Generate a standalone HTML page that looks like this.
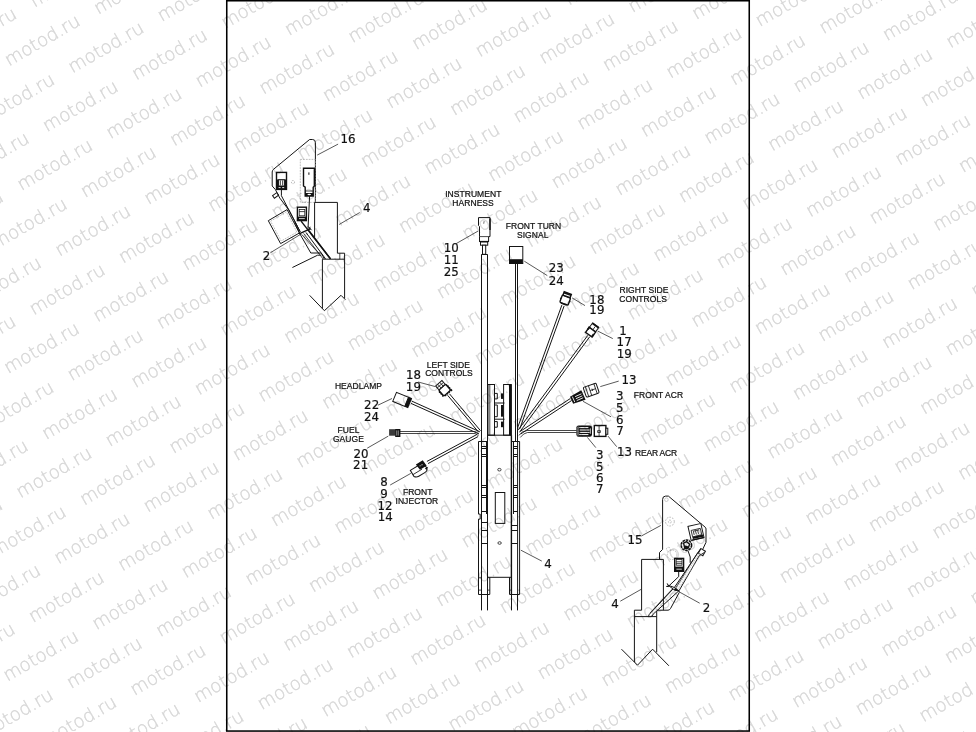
<!DOCTYPE html>
<html><head><meta charset="utf-8"><title>Wiring harness diagram</title>
<style>
html,body{margin:0;padding:0;background:#fff;}
body{width:976px;height:732px;overflow:hidden;position:relative;}
svg{position:absolute;left:0;top:0;display:block;}
.wm text{font-family:"DejaVu Sans","Liberation Sans",sans-serif;font-weight:200;font-size:18.3px;fill:#d6d6d6;stroke:#d6d6d6;stroke-width:0.35px;}
.lab text{font-family:"Liberation Sans","DejaVu Sans",sans-serif;font-size:8.5px;fill:#111;stroke:#111;stroke-width:0.22px;letter-spacing:0.05px;}
.num text{font-family:"DejaVu Sans","Liberation Sans",sans-serif;font-size:11.8px;fill:#111;stroke:#111;stroke-width:0.2px;letter-spacing:0.1px;}
.l{fill:none;stroke:#151515;stroke-width:1.0;}
.lw{fill:#fff;stroke:#151515;stroke-width:1.0;}
.t{fill:none;stroke:#1a1a1a;stroke-width:0.8;}
.tw{fill:#fff;stroke:#1a1a1a;stroke-width:0.8;}
.k{fill:none;stroke:#111;stroke-width:1.4;}
.kw{fill:#fff;stroke:#111;stroke-width:1.4;}
.b{fill:#111;stroke:none;}
.g{fill:none;stroke:#a4a4a4;stroke-width:0.7;stroke-dasharray:1.8 1;}
.ld{fill:none;stroke:#222;stroke-width:0.75;}
</style></head>
<body>
<svg width="976" height="732" viewBox="0 0 976 732">
<rect x="0" y="0" width="976" height="732" fill="#fff"/>
<g class="draw">
<path class="lw" d="M478.5 217.6H490.0V236.6H488.6V241.6H479.5V236.6V226.6L478.5 225.6Z"/>
<path class="k" d="M490.0 218.5L490.0 230.0"/>
<path class="t" d="M479.4 236.6L488.6 236.6"/>
<rect class="b" x="479.2" y="240.9" width="9.6" height="1.1" />
<rect class="lw" x="480.5" y="242.0" width="7.2" height="3.2" />
<rect class="lw" x="482.5" y="245.2" width="3.2" height="9.1" />
<path d="M483.6 221.6V224.0M483.6 221.6H485.0M483.6 222.8H484.8" stroke="#777" stroke-width="0.6" fill="none"/>
<path class="l" d="M481.5 254.4L481.5 441.2"/>
<path class="l" d="M487.5 254.4L487.5 441.2"/>
<path class="l" d="M481.5 254.5L487.5 254.5"/>
<rect class="lw" x="509.5" y="246.5" width="13.3" height="17.0" />
<rect class="b" x="509.4" y="259.2" width="13.4" height="4.4" />
<path class="l" d="M515.5 263.6L515.5 441.2"/>
<path class="l" d="M517.5 263.6L517.5 441.2"/>
<rect class="lw" x="488.0" y="384.5" width="6.5" height="50.7" />
<path class="t" d="M489.8 384.5L489.8 435.2"/>
<rect class="lw" x="503.6" y="384.5" width="7.7" height="50.7" />
<rect class="b" x="509.0" y="384.5" width="2.6" height="50.7" />
<path class="l" d="M494.5 393.4H497.3V398.9H494.5"/>
<rect class="b" x="501.0" y="393.4" width="2.4" height="5.5" />
<path class="l" d="M494.5 405.0H497.3V416.7H494.5"/>
<rect class="b" x="501.0" y="405.0" width="2.4" height="11.699999999999989" />
<path class="l" d="M494.5 421.6H497.3V427.2H494.5"/>
<rect class="b" x="501.0" y="421.6" width="2.4" height="5.599999999999966" />
<path class="l" d="M494.5 403.0L504.5 403.0"/>
<path class="l" d="M494.5 419.2L504.5 419.2"/>
<path class="l" d="M487.7 435.2H511.3"/>
<path class="l" d="M487.5 435.2L487.5 594.4"/>
<path class="k" d="M511.4 435.2L511.4 594.4"/>
<path class="l" d="M489.8 577.3L489.8 594.4"/>
<path class="l" d="M509.5 577.3L509.5 594.4"/>
<path class="l" d="M487.7 577.3L511.3 577.3"/>
<ellipse class="t" cx="499.4" cy="469.7" rx="1.7" ry="1.3"/>
<ellipse class="t" cx="499.6" cy="543.0" rx="1.7" ry="1.3"/>
<rect class="l" x="495.3" y="492.5" width="9.5" height="30.9" />
<path class="l" d="M478.5 441.5V514.1H480.2V519.1H478.5V594.5H489.8"/>
<path class="l" d="M478.5 441.5L487.5 441.5"/>
<path class="l" d="M481.5 441.3L481.5 594.4"/>
<path class="l" d="M486.5 441.3L486.5 514.0"/>
<path class="l" d="M481.5 446.5L486.5 446.5"/>
<path class="l" d="M481.5 448.5L486.5 448.5"/>
<path class="l" d="M481.5 454.5L486.5 454.5"/>
<path class="l" d="M481.5 456.5L486.5 456.5"/>
<path class="l" d="M481.5 485.5L486.5 485.5"/>
<path class="l" d="M481.5 487.5L486.5 487.5"/>
<path class="l" d="M481.5 495.5L486.5 495.5"/>
<path class="l" d="M481.5 497.5L486.5 497.5"/>
<path class="l" d="M481.5 511.5L486.5 511.5"/>
<path class="l" d="M481.5 522.5L487.5 522.5"/>
<path class="l" d="M481.5 530.5L487.5 530.5"/>
<path class="l" d="M481.5 543.5L487.5 543.5"/>
<path class="t" d="M478.4 577.8L481.2 577.8"/>
<path class="t" d="M478.4 590.1L481.2 590.1"/>
<path class="t" d="M487.7 590.1L489.8 590.1"/>
<path class="l" d="M511.3 441.5H519.6V594.5H509.5"/>
<path class="l" d="M517.6 441.3L517.6 594.4"/>
<path class="l" d="M513.5 441.3L513.5 514.0"/>
<path class="l" d="M513.5 446.5L517.6 446.5"/>
<path class="l" d="M513.5 448.5L517.6 448.5"/>
<path class="l" d="M513.5 454.5L517.6 454.5"/>
<path class="l" d="M513.5 456.5L517.6 456.5"/>
<path class="l" d="M513.5 485.5L517.6 485.5"/>
<path class="l" d="M513.5 487.5L517.6 487.5"/>
<path class="l" d="M513.5 495.5L517.6 495.5"/>
<path class="l" d="M513.5 497.5L517.6 497.5"/>
<path class="l" d="M513.5 511.5L517.6 511.5"/>
<path class="l" d="M511.4 525.5L517.6 525.5"/>
<path class="l" d="M511.4 530.5L517.6 530.5"/>
<path class="l" d="M511.4 543.5L517.6 543.5"/>
<path class="t" d="M509.5 590.1L511.3 590.1"/>
<path class="t" d="M518.7 590.1L519.9 590.1"/>
<path class="l" d="M481.5 594.4L481.5 610.4"/>
<path class="l" d="M487.5 594.4L487.5 610.4"/>
<path class="l" d="M511.5 594.4L511.5 610.4"/>
<path class="l" d="M517.5 594.4L517.5 610.4"/>
<path class="l" d="M561.87 305.09L517.47 428.09"/>
<path class="l" d="M564.13 305.91L519.73 428.91"/>
<path class="l" d="M587.83 335.29L518.33 429.79"/>
<path class="l" d="M589.77 336.71L520.27 431.21"/>
<path class="l" d="M570.34 398.5L519.34 432.0"/>
<path class="l" d="M571.66 400.5L520.66 434.0"/>
<path class="t" d="M576.6 430.5H527Q522 430.8 518.7 435.5"/>
<path class="t" d="M576.6 432.5H527.5Q523.5 433 520.2 437.5"/>
<path class="l" d="M447.58 395.27L478.68 432.27"/>
<path class="l" d="M449.42 393.73L480.52 430.73"/>
<path class="l" d="M411.01 403.39L478.81 433.89"/>
<path class="l" d="M411.99 401.21L479.79 431.71"/>
<path class="t" d="M399.8 431.5H475.5L479 434.0"/>
<path class="t" d="M399.8 433.5H475L478.5 435.6"/>
<path class="l" d="M428.07 463.56L478.07 436.56"/>
<path class="l" d="M426.93 461.44L476.93 434.44"/>
<g transform="translate(565.4 299.6) rotate(20)"><rect class="kw" x="-4.4" y="-3.2" width="8.8" height="7.6" rx="1"/><rect class="kw" x="-3.8" y="-7.0" width="7.6" height="3.6" rx="0"/><rect class="b" x="-3.8" y="-7.0" width="7.6" height="1.8" rx="0"/><path class="k" d="M-5.4 0.5L-4.4 0.5"/><path class="k" d="M4.4 0.5L5.4 0.5"/><rect class="b" x="-3.0" y="4.0" width="6.0" height="1.4" rx="0"/></g>
<path class="ld" d="M572.1 297.9L585.0 305.6"/>
<g transform="translate(592.2 330.0) rotate(36)"><rect class="lw" x="-3.8" y="-6.0" width="7.6" height="5.6" rx="0"/><rect class="kw" x="-4.0" y="-0.4" width="8.0" height="6.2" rx="0"/><rect class="b" x="-3.8" y="-6.4" width="7.6" height="1.7" rx="0"/><path class="t" d="M0.4 -4.6L0.4 -0.4"/><rect class="b" x="-4.8" y="-1.0" width="1.8" height="3.2" rx="0"/><rect class="b" x="2.8" y="2.4" width="1.8" height="3.4" rx="0"/></g>
<path class="ld" d="M598.0 331.2L612.8 338.6"/>
<g transform="translate(591.2 390.2) rotate(-19)"><rect class="lw" x="-6.8" y="-5.2" width="13.6" height="10.4" rx="1.2"/><path class="t" d="M-4.4 -5.2L-4.4 5.2"/><path class="t" d="M-1.2 -5.2L-1.2 5.2"/><path class="t" d="M4.6 -5.2L4.6 5.2"/><path class="t" d="M-1.2 0L4.6 0"/><path class="t" d="M1.2 -1.2L1.2 1.2"/></g>
<g transform="translate(577.6 397.6) rotate(-24)"><path class="b" d="M-6.6 -3.9L6.4 -5.3L6.4 5.3L-6.6 3.9Z"/><path d="M-4.4 -3.0V3.0M-2.0 -1.9H5.0M-2.0 0.3H5.0M-2.0 2.4H5.0" stroke="#fff" stroke-width="0.8" fill="none"/></g>
<path class="ld" d="M600.3 386.6L618.7 381.1"/>
<path class="ld" d="M583.0 401.3L611.0 416.8"/>
<rect class="b" x="576.4" y="425.4" width="15.6" height="11.3" rx="2.2"/>
<path d="M579.2 427.6H588.4M579.6 430.0H589.6M579.6 432.4H589.6M579.2 434.6H588.4" stroke="#fff" stroke-width="1.0" fill="none"/>
<path d="M578.0 426.6V435.6M590.4 428.4V433.8" stroke="#fff" stroke-width="0.7" fill="none"/>
<rect class="kw" x="594.3" y="425.5" width="11.6" height="10.9" />
<rect class="lw" x="605.9" y="428.2" width="1.9" height="6.1" />
<path class="t" d="M599.1 425.5L599.1 436.4"/>
<rect class="t" x="597.7" y="430.7" width="2.6" height="1.7" />
<path class="ld" d="M587.4 437.4L595.8 447.6"/>
<path class="ld" d="M608.0 436.1L616.7 446.7"/>
<g transform="translate(443.9 389.2) rotate(-41)"><path d="M-4.6 -1.2V5.2H4.6V-1.2" fill="none" stroke="#111" stroke-width="2.6" stroke-dasharray="1.3 1.2"/><rect class="kw" x="-4.6" y="-2.8" width="9.2" height="8.0" rx="1.5"/><rect class="lw" x="-4.2" y="-7.8" width="8.4" height="5.0" rx="0"/><path class="t" d="M-1.4 -7.8L-1.4 -2.8"/><path class="t" d="M1.4 -7.8L1.4 -2.8"/><path class="t" d="M-4.2 -5.4L4.2 -5.4"/><path d="M-5.4 -1.4H-4.6M-5.4 1.0H-4.6M-5.4 3.4H-4.6M4.6 -1.4H5.4M4.6 1.0H5.4M4.6 3.4H5.4M-2.6 5.2V6.2M0 5.2V6.2M2.6 5.2V6.2" stroke="#111" stroke-width="1.1" fill="none"/></g>
<path class="ld" d="M418.2 382.0L435.0 386.5"/>
<g transform="translate(402.0 399.9) rotate(22.5)"><rect class="lw" x="-8.0" y="-4.9" width="13.0" height="9.8" rx="0"/><rect class="b" x="5.0" y="-5.4" width="3.8" height="10.8" rx="0"/></g>
<path class="ld" d="M377.9 405.2L392.0 398.5"/>
<rect class="b" x="389.1" y="429.2" width="6.7" height="6.5" style="fill:#3a3a3a"/>
<rect class="kw" x="395.9" y="429.7" width="3.8" height="6.6" />
<path class="k" d="M397.9 429.7L397.9 436.3"/>
<path class="ld" d="M367.2 448.2L388.3 436.1"/>
<g transform="translate(419.2 470.4) rotate(-31)"><path class="lw" d="M-7.6 -4.6H7.6V1.6Q7.6 4.8 3.6 4.8H-3.4Q-6.0 4.8 -7.6 2.6Z"/><path class="t" d="M-7.6 0.4L3.0 0.4"/><path class="b" d="M0.2 -6.8L8.2 -6.8L8.8 -0.2L1.0 -0.2Z"/><path d="M2.6 -3.4H3.6M4.8 -3.4H5.8" stroke="#fff" stroke-width="0.9" fill="none"/><path class="b" d="M6.0 1.0L9.6 1.6L6.4 3.4Z"/></g>
<path class="ld" d="M390.2 485.0L410.8 473.4"/>
<path class="ld" d="M456.2 243.6L478.0 231.1"/>
<path class="ld" d="M524.3 261.2L547.3 275.6"/>
<path class="ld" d="M520.9 550.2L541.8 561.1"/>
<path class="l" d="M315.4 202.4V142.6Q315.4 139.5 312.6 139.5H309.6L273.4 169.4Q272.2 170.4 272.2 172V186.0L275.4 189.6"/>
<rect class="g" x="300.3" y="159.4" width="15.0" height="43.0" />
<circle class="g" cx="293.0" cy="182.1" r="1.6"/>
<path class="kw" d="M303.5 168.3H314.4V186.0L313.2 187.2V196.0H305.2V187.2L303.5 186.0Z"/>
<path class="t" d="M305.2 191.0L313.2 191.0"/>
<rect class="b" x="305.2" y="193.0" width="8.0" height="3.0" />
<ellipse cx="309.2" cy="194.5" rx="1.8" ry="0.8" fill="#fff"/>
<rect class="b" x="308.4" y="172.4" width="1.0" height="2.4" />
<path class="k" d="M314.6 170V186"/>
<rect class="kw" x="276.5" y="172.4" width="10.0" height="17.0" />
<rect class="b" x="276.5" y="179.4" width="10.0" height="10.0" />
<rect class="lw" x="278.6" y="179.8" width="5.8" height="6.2" />
<path class="t" d="M280.4 180.4V185.4M282.6 180.4V185.4"/>
<path d="M278.6 187.6H280.6M282.2 187.6H284.2" stroke="#fff" stroke-width="0.9"/>
<g transform="translate(275.6 195.4) rotate(-35)"><rect class="lw" x="-2.6" y="-1.6" width="5.2" height="3.2" rx="0"/></g>
<path class="l" d="M281.4 189.4V195.7L300.2 231.7"/>
<path class="l" d="M279.8 198.1L288.4 209.4"/>
<path class="l" d="M275.4 189.6L279.8 198.1"/>
<path class="lw" d="M268.3 220.7L287.1 209.6L299.4 233.0L280.6 243.6Z"/>
<path class="g" d="M270.6 221.2L286.4 211.9L296.9 232.2L281.2 241.0Z"/>
<path class="l" d="M288.6 209.4L300.2 231.7"/>
<rect class="kw" x="297.4" y="207.2" width="9.0" height="13.4" />
<rect class="b" x="297.4" y="216.6" width="9.0" height="4.0" />
<rect class="tw" x="299.2" y="209.4" width="5.6" height="6.4" />
<path class="t" d="M299.2 211.6L304.8 211.6"/>
<path d="M299 218.6H304.8" stroke="#fff" stroke-width="0.8"/>
<path class="k" d="M301.1 221.1L330.5 258.9"/>
<path class="l" d="M309.6 196.0L308.0 228.8"/>
<path class="l" d="M314.6 237.4V202.4H337.4V253.2H344.6V298.4"/>
<path class="t" d="M339.8 253.2V259.2"/>
<path class="l" d="M322.4 308.6V259.2H344.6"/>
<path class="l" d="M309.6 295.3L324.4 310.7L341.0 295.3L345.3 299.6"/>
<path class="l" d="M294.8 222.0L299.8 233.7L310.8 253.0H321.3L324.3 258.9"/>
<path class="t" d="M301.6 234.3L319.4 254.0"/>
<path class="l" d="M305.9 232.4L325.6 258.9"/>
<path class="t" d="M303.6 233.4L323.0 258.9"/>
<path class="k" d="M309.0 230.6L330.5 258.9"/>
<path class="l" d="M292.4 267.5L317.6 255.2H321.4"/>
<path class="k" d="M299.1 233.9L310.6 228.6"/>
<path class="l" d="M308.0 226.4L311.6 230.2M310.2 226.8L308.4 230.4"/>
<path class="ld" d="M317.2 155.1L338.1 144.1"/>
<path class="ld" d="M339.1 224.5L359.8 212.5"/>
<path class="ld" d="M270.3 252.8L300.8 234.2"/>
<path class="l" d="M659.5 559.3V552.5L662.6 549.4V499.4Q662.6 496.1 665.6 496.1H668.4L705.2 527.2Q706 527.9 706 529V542.3L702.6 549.6"/>
<path class="l" d="M657.0 610.2H668.0Q669.6 610.2 670.6 608.4L679.4 592.2"/>
<circle cx="666.4" cy="499.7" r="1.8" fill="none" stroke="#aaa" stroke-width="0.6"/>
<circle class="g" cx="669.9" cy="521.6" r="4.4"/>
<circle class="g" cx="669.9" cy="521.6" r="1.5"/>
<circle class="g" cx="668.4" cy="549.3" r="2.0"/>
<circle class="g" cx="672.1" cy="554.8" r="4.8"/>
<path class="g" d="M680.6 522.9L682.6 522.7"/>
<g transform="translate(696.0 532.0) rotate(-13)"><rect class="lw" x="-6.6" y="-7.2" width="13.2" height="14.4" rx="0"/><rect class="tw" x="-4.4" y="-2.6" width="9.4" height="6.6" rx="0"/><path class="t" d="M-2.4 -1.4V2.4M-0.2 -1.4V2.4M2.0 -1.4V2.4M-2.4 -1.4H3.6"/><rect class="b" x="-4.6" y="4.0" width="10.6" height="2.2" rx="0"/><rect class="b" x="-5.6" y="6.4" width="12.0" height="1.2" rx="0"/></g>
<circle cx="686.4" cy="545.2" r="5.2" fill="#fff" stroke="#111" stroke-width="1.6" stroke-dasharray="2.6 0.7"/>
<path class="k" d="M683.6 543.2L686.6 541.6L689.6 544.2L688.2 548.2L684.8 548.6Z"/>
<path class="b" d="M684.6 545.2L688.6 546.4L687.4 549.2L684.2 548.4Z"/>
<path class="l" d="M688.1 551.0L690.2 557.0V562.8"/>
<g transform="translate(701.9 552.2) rotate(30)"><rect class="lw" x="-2.6" y="-2.6" width="5.2" height="5.2" rx="0"/></g>
<rect class="kw" x="674.7" y="558.4" width="8.9" height="12.9" />
<rect class="b" x="674.7" y="566.6" width="8.9" height="4.7" />
<rect class="tw" x="676.2" y="559.6" width="5.8" height="5.6" />
<path class="t" d="M676.2 561.8L682.0 561.8"/>
<path class="t" d="M676.2 563.6L682.0 563.6"/>
<path d="M676.4 569.2H681.8" stroke="#fff" stroke-width="0.8"/>
<path class="l" d="M678.7 571.4V576.6L668.6 586.2"/>
<path class="l" d="M700.8 548.4L674.3 587.6L649.3 614.3L648.4 616.6"/>
<path class="l" d="M704.2 552.6L699.2 555.8L679.2 590.5L653.0 614.3L651.7 616.6"/>
<path class="g" d="M699.6 553.0L676.4 588.6L650.4 616.6"/>
<path class="g" d="M701.8 553.6L677.8 589.6"/>
<path class="t" d="M697.9 552.4L675.6 588.2"/>
<path class="t" d="M672.4 589.0L650.0 613.0"/>
<path class="l" d="M641.6 559.4H663.4V610.2"/>
<path class="l" d="M641.6 559.4V610.2H634.4V662.1"/>
<path class="l" d="M634.4 616.6H656.7"/>
<path class="l" d="M656.7 611.0V652.3"/>
<path class="l" d="M621.5 649.2L637.5 665.2L652.6 649.2L668.9 665.8"/>
<path class="lw" d="M668.1 585.2Q674.4 586.6 679.6 591.3Q673.4 590.6 668.1 585.2Z"/>
<path class="l" d="M667.2 583.4L668.6 586.6L666.2 586.4"/>
<rect class="b" x="674.6" y="588.6" width="2.6" height="2.2" />
<path class="ld" d="M641.2 536.1L660.9 525.4"/>
<path class="ld" d="M620.3 601.2L641.2 589.3"/>
<path class="ld" d="M679.6 592.1L699.7 603.2"/>
</g>
<g class="lab" style="filter:grayscale(1)">
<text x="473.3" y="196.6" text-anchor="middle">INSTRUMENT</text>
<text x="473.1" y="205.5" text-anchor="middle">HARNESS</text>
<text x="533.5" y="228.6" text-anchor="middle">FRONT TURN</text>
<text x="532.7" y="237.5" text-anchor="middle">SIGNAL</text>
<text x="619.5" y="292.7" text-anchor="start">RIGHT SIDE</text>
<text x="619.3" y="301.7" text-anchor="start">CONTROLS</text>
<text x="633.8" y="397.5" text-anchor="start">FRONT ACR</text>
<text x="635" y="455.7" text-anchor="start" style="letter-spacing:-0.2px">REAR ACR</text>
<text x="448.3" y="367.7" text-anchor="middle">LEFT SIDE</text>
<text x="449.0" y="376.4" text-anchor="middle">CONTROLS</text>
<text x="358.5" y="388.6" text-anchor="middle">HEADLAMP</text>
<text x="348.5" y="432.5" text-anchor="middle">FUEL</text>
<text x="348.4" y="441.8" text-anchor="middle">GAUGE</text>
<text x="417.7" y="494.7" text-anchor="middle">FRONT</text>
<text x="416.9" y="503.5" text-anchor="middle">INJECTOR</text>
</g>
<g class="num" style="filter:grayscale(1)">
<text x="348" y="142.8" text-anchor="middle">16</text>
<text x="366.8" y="212.2" text-anchor="middle">4</text>
<text x="266.6" y="260.2" text-anchor="middle">2</text>
<text x="451.3" y="251.9" text-anchor="middle">10</text>
<text x="451.3" y="263.8" text-anchor="middle">11</text>
<text x="451.3" y="275.7" text-anchor="middle">25</text>
<text x="556.3" y="272.3" text-anchor="middle">23</text>
<text x="556.3" y="284.5" text-anchor="middle">24</text>
<text x="596.9" y="303.5" text-anchor="middle">18</text>
<text x="596.9" y="314.4" text-anchor="middle">19</text>
<text x="623" y="334.6" text-anchor="middle">1</text>
<text x="624.2" y="346.0" text-anchor="middle">17</text>
<text x="624.3" y="357.6" text-anchor="middle">19</text>
<text x="629" y="384.1" text-anchor="middle">13</text>
<text x="619.7" y="400.1" text-anchor="middle">3</text>
<text x="619.7" y="411.7" text-anchor="middle">5</text>
<text x="619.7" y="423.6" text-anchor="middle">6</text>
<text x="620" y="435.0" text-anchor="middle">7</text>
<text x="624.6" y="455.7" text-anchor="middle">13</text>
<text x="599.7" y="459.4" text-anchor="middle">3</text>
<text x="599.7" y="471.1" text-anchor="middle">5</text>
<text x="599.7" y="482.4" text-anchor="middle">6</text>
<text x="599.9" y="492.6" text-anchor="middle">7</text>
<text x="413.6" y="379.2" text-anchor="middle">18</text>
<text x="413.4" y="391.1" text-anchor="middle">19</text>
<text x="371.7" y="408.9" text-anchor="middle">22</text>
<text x="371.5" y="420.7" text-anchor="middle">24</text>
<text x="361" y="458.3" text-anchor="middle">20</text>
<text x="360.7" y="469.1" text-anchor="middle">21</text>
<text x="384" y="486.2" text-anchor="middle">8</text>
<text x="384" y="498.1" text-anchor="middle">9</text>
<text x="385" y="509.9" text-anchor="middle">12</text>
<text x="385.3" y="521.3" text-anchor="middle">14</text>
<text x="548" y="568.2" text-anchor="middle">4</text>
<text x="635" y="544.3" text-anchor="middle">15</text>
<text x="615" y="608.2" text-anchor="middle">4</text>
<text x="706.5" y="611.6" text-anchor="middle">2</text>
</g>
<g class="wm" style="mix-blend-mode:multiply">
<text transform="translate(-92.6 -6.5) rotate(-30)">motod.ru</text>
<text transform="translate(-29.0 0.6) rotate(-30)">motod.ru</text>
<text transform="translate(-54.6 59.3) rotate(-30)">motod.ru</text>
<text transform="translate(-80.2 118.0) rotate(-30)">motod.ru</text>
<text transform="translate(34.6 7.7) rotate(-30)">motod.ru</text>
<text transform="translate(9.0 66.4) rotate(-30)">motod.ru</text>
<text transform="translate(-16.6 125.1) rotate(-30)">motod.ru</text>
<text transform="translate(-42.2 183.8) rotate(-30)">motod.ru</text>
<text transform="translate(-67.8 242.5) rotate(-30)">motod.ru</text>
<text transform="translate(-93.4 301.2) rotate(-30)">motod.ru</text>
<text transform="translate(98.2 14.8) rotate(-30)">motod.ru</text>
<text transform="translate(72.6 73.5) rotate(-30)">motod.ru</text>
<text transform="translate(47.0 132.2) rotate(-30)">motod.ru</text>
<text transform="translate(21.4 190.9) rotate(-30)">motod.ru</text>
<text transform="translate(-4.2 249.6) rotate(-30)">motod.ru</text>
<text transform="translate(-29.8 308.3) rotate(-30)">motod.ru</text>
<text transform="translate(-55.4 367.0) rotate(-30)">motod.ru</text>
<text transform="translate(-81.0 425.7) rotate(-30)">motod.ru</text>
<text transform="translate(161.8 21.9) rotate(-30)">motod.ru</text>
<text transform="translate(136.2 80.6) rotate(-30)">motod.ru</text>
<text transform="translate(110.6 139.3) rotate(-30)">motod.ru</text>
<text transform="translate(85.0 198.0) rotate(-30)">motod.ru</text>
<text transform="translate(59.4 256.7) rotate(-30)">motod.ru</text>
<text transform="translate(33.8 315.4) rotate(-30)">motod.ru</text>
<text transform="translate(8.2 374.1) rotate(-30)">motod.ru</text>
<text transform="translate(-17.4 432.8) rotate(-30)">motod.ru</text>
<text transform="translate(-43.0 491.5) rotate(-30)">motod.ru</text>
<text transform="translate(-68.6 550.2) rotate(-30)">motod.ru</text>
<text transform="translate(-94.2 608.9) rotate(-30)">motod.ru</text>
<text transform="translate(225.4 29.0) rotate(-30)">motod.ru</text>
<text transform="translate(199.8 87.7) rotate(-30)">motod.ru</text>
<text transform="translate(174.2 146.4) rotate(-30)">motod.ru</text>
<text transform="translate(148.6 205.1) rotate(-30)">motod.ru</text>
<text transform="translate(123.0 263.8) rotate(-30)">motod.ru</text>
<text transform="translate(97.4 322.5) rotate(-30)">motod.ru</text>
<text transform="translate(71.8 381.2) rotate(-30)">motod.ru</text>
<text transform="translate(46.2 439.9) rotate(-30)">motod.ru</text>
<text transform="translate(20.6 498.6) rotate(-30)">motod.ru</text>
<text transform="translate(-5.0 557.3) rotate(-30)">motod.ru</text>
<text transform="translate(-30.6 616.0) rotate(-30)">motod.ru</text>
<text transform="translate(-56.2 674.7) rotate(-30)">motod.ru</text>
<text transform="translate(-81.8 733.4) rotate(-30)">motod.ru</text>
<text transform="translate(289.0 36.1) rotate(-30)">motod.ru</text>
<text transform="translate(263.4 94.8) rotate(-30)">motod.ru</text>
<text transform="translate(237.8 153.5) rotate(-30)">motod.ru</text>
<text transform="translate(212.2 212.2) rotate(-30)">motod.ru</text>
<text transform="translate(186.6 270.9) rotate(-30)">motod.ru</text>
<text transform="translate(161.0 329.6) rotate(-30)">motod.ru</text>
<text transform="translate(135.4 388.3) rotate(-30)">motod.ru</text>
<text transform="translate(109.8 447.0) rotate(-30)">motod.ru</text>
<text transform="translate(84.2 505.7) rotate(-30)">motod.ru</text>
<text transform="translate(58.6 564.4) rotate(-30)">motod.ru</text>
<text transform="translate(33.0 623.1) rotate(-30)">motod.ru</text>
<text transform="translate(7.4 681.8) rotate(-30)">motod.ru</text>
<text transform="translate(-18.2 740.5) rotate(-30)">motod.ru</text>
<text transform="translate(-43.8 799.2) rotate(-30)">motod.ru</text>
<text transform="translate(378.2 -15.5) rotate(-30)">motod.ru</text>
<text transform="translate(352.6 43.2) rotate(-30)">motod.ru</text>
<text transform="translate(327.0 101.9) rotate(-30)">motod.ru</text>
<text transform="translate(301.4 160.6) rotate(-30)">motod.ru</text>
<text transform="translate(275.8 219.3) rotate(-30)">motod.ru</text>
<text transform="translate(250.2 278.0) rotate(-30)">motod.ru</text>
<text transform="translate(224.6 336.7) rotate(-30)">motod.ru</text>
<text transform="translate(199.0 395.4) rotate(-30)">motod.ru</text>
<text transform="translate(173.4 454.1) rotate(-30)">motod.ru</text>
<text transform="translate(147.8 512.8) rotate(-30)">motod.ru</text>
<text transform="translate(122.2 571.5) rotate(-30)">motod.ru</text>
<text transform="translate(96.6 630.2) rotate(-30)">motod.ru</text>
<text transform="translate(71.0 688.9) rotate(-30)">motod.ru</text>
<text transform="translate(45.4 747.6) rotate(-30)">motod.ru</text>
<text transform="translate(441.8 -8.4) rotate(-30)">motod.ru</text>
<text transform="translate(416.2 50.3) rotate(-30)">motod.ru</text>
<text transform="translate(390.6 109.0) rotate(-30)">motod.ru</text>
<text transform="translate(365.0 167.7) rotate(-30)">motod.ru</text>
<text transform="translate(339.4 226.4) rotate(-30)">motod.ru</text>
<text transform="translate(313.8 285.1) rotate(-30)">motod.ru</text>
<text transform="translate(288.2 343.8) rotate(-30)">motod.ru</text>
<text transform="translate(262.6 402.5) rotate(-30)">motod.ru</text>
<text transform="translate(237.0 461.2) rotate(-30)">motod.ru</text>
<text transform="translate(211.4 519.9) rotate(-30)">motod.ru</text>
<text transform="translate(185.8 578.6) rotate(-30)">motod.ru</text>
<text transform="translate(160.2 637.3) rotate(-30)">motod.ru</text>
<text transform="translate(134.6 696.0) rotate(-30)">motod.ru</text>
<text transform="translate(109.0 754.7) rotate(-30)">motod.ru</text>
<text transform="translate(505.4 -1.3) rotate(-30)">motod.ru</text>
<text transform="translate(479.8 57.4) rotate(-30)">motod.ru</text>
<text transform="translate(454.2 116.1) rotate(-30)">motod.ru</text>
<text transform="translate(428.6 174.8) rotate(-30)">motod.ru</text>
<text transform="translate(403.0 233.5) rotate(-30)">motod.ru</text>
<text transform="translate(377.4 292.2) rotate(-30)">motod.ru</text>
<text transform="translate(351.8 350.9) rotate(-30)">motod.ru</text>
<text transform="translate(326.2 409.6) rotate(-30)">motod.ru</text>
<text transform="translate(300.6 468.3) rotate(-30)">motod.ru</text>
<text transform="translate(275.0 527.0) rotate(-30)">motod.ru</text>
<text transform="translate(249.4 585.7) rotate(-30)">motod.ru</text>
<text transform="translate(223.8 644.4) rotate(-30)">motod.ru</text>
<text transform="translate(198.2 703.1) rotate(-30)">motod.ru</text>
<text transform="translate(172.6 761.8) rotate(-30)">motod.ru</text>
<text transform="translate(569.0 5.8) rotate(-30)">motod.ru</text>
<text transform="translate(543.4 64.5) rotate(-30)">motod.ru</text>
<text transform="translate(517.8 123.2) rotate(-30)">motod.ru</text>
<text transform="translate(492.2 181.9) rotate(-30)">motod.ru</text>
<text transform="translate(466.6 240.6) rotate(-30)">motod.ru</text>
<text transform="translate(441.0 299.3) rotate(-30)">motod.ru</text>
<text transform="translate(415.4 358.0) rotate(-30)">motod.ru</text>
<text transform="translate(389.8 416.7) rotate(-30)">motod.ru</text>
<text transform="translate(364.2 475.4) rotate(-30)">motod.ru</text>
<text transform="translate(338.6 534.1) rotate(-30)">motod.ru</text>
<text transform="translate(313.0 592.8) rotate(-30)">motod.ru</text>
<text transform="translate(287.4 651.5) rotate(-30)">motod.ru</text>
<text transform="translate(261.8 710.2) rotate(-30)">motod.ru</text>
<text transform="translate(236.2 768.9) rotate(-30)">motod.ru</text>
<text transform="translate(632.6 12.9) rotate(-30)">motod.ru</text>
<text transform="translate(607.0 71.6) rotate(-30)">motod.ru</text>
<text transform="translate(581.4 130.3) rotate(-30)">motod.ru</text>
<text transform="translate(555.8 189.0) rotate(-30)">motod.ru</text>
<text transform="translate(530.2 247.7) rotate(-30)">motod.ru</text>
<text transform="translate(504.6 306.4) rotate(-30)">motod.ru</text>
<text transform="translate(479.0 365.1) rotate(-30)">motod.ru</text>
<text transform="translate(453.4 423.8) rotate(-30)">motod.ru</text>
<text transform="translate(427.8 482.5) rotate(-30)">motod.ru</text>
<text transform="translate(402.2 541.2) rotate(-30)">motod.ru</text>
<text transform="translate(376.6 599.9) rotate(-30)">motod.ru</text>
<text transform="translate(351.0 658.6) rotate(-30)">motod.ru</text>
<text transform="translate(325.4 717.3) rotate(-30)">motod.ru</text>
<text transform="translate(299.8 776.0) rotate(-30)">motod.ru</text>
<text transform="translate(696.2 20.0) rotate(-30)">motod.ru</text>
<text transform="translate(670.6 78.7) rotate(-30)">motod.ru</text>
<text transform="translate(645.0 137.4) rotate(-30)">motod.ru</text>
<text transform="translate(619.4 196.1) rotate(-30)">motod.ru</text>
<text transform="translate(593.8 254.8) rotate(-30)">motod.ru</text>
<text transform="translate(568.2 313.5) rotate(-30)">motod.ru</text>
<text transform="translate(542.6 372.2) rotate(-30)">motod.ru</text>
<text transform="translate(517.0 430.9) rotate(-30)">motod.ru</text>
<text transform="translate(491.4 489.6) rotate(-30)">motod.ru</text>
<text transform="translate(465.8 548.3) rotate(-30)">motod.ru</text>
<text transform="translate(440.2 607.0) rotate(-30)">motod.ru</text>
<text transform="translate(414.6 665.7) rotate(-30)">motod.ru</text>
<text transform="translate(389.0 724.4) rotate(-30)">motod.ru</text>
<text transform="translate(363.4 783.1) rotate(-30)">motod.ru</text>
<text transform="translate(759.8 27.1) rotate(-30)">motod.ru</text>
<text transform="translate(734.2 85.8) rotate(-30)">motod.ru</text>
<text transform="translate(708.6 144.5) rotate(-30)">motod.ru</text>
<text transform="translate(683.0 203.2) rotate(-30)">motod.ru</text>
<text transform="translate(657.4 261.9) rotate(-30)">motod.ru</text>
<text transform="translate(631.8 320.6) rotate(-30)">motod.ru</text>
<text transform="translate(606.2 379.3) rotate(-30)">motod.ru</text>
<text transform="translate(580.6 438.0) rotate(-30)">motod.ru</text>
<text transform="translate(555.0 496.7) rotate(-30)">motod.ru</text>
<text transform="translate(529.4 555.4) rotate(-30)">motod.ru</text>
<text transform="translate(503.8 614.1) rotate(-30)">motod.ru</text>
<text transform="translate(478.2 672.8) rotate(-30)">motod.ru</text>
<text transform="translate(452.6 731.5) rotate(-30)">motod.ru</text>
<text transform="translate(427.0 790.2) rotate(-30)">motod.ru</text>
<text transform="translate(823.4 34.2) rotate(-30)">motod.ru</text>
<text transform="translate(797.8 92.9) rotate(-30)">motod.ru</text>
<text transform="translate(772.2 151.6) rotate(-30)">motod.ru</text>
<text transform="translate(746.6 210.3) rotate(-30)">motod.ru</text>
<text transform="translate(721.0 269.0) rotate(-30)">motod.ru</text>
<text transform="translate(695.4 327.7) rotate(-30)">motod.ru</text>
<text transform="translate(669.8 386.4) rotate(-30)">motod.ru</text>
<text transform="translate(644.2 445.1) rotate(-30)">motod.ru</text>
<text transform="translate(618.6 503.8) rotate(-30)">motod.ru</text>
<text transform="translate(593.0 562.5) rotate(-30)">motod.ru</text>
<text transform="translate(567.4 621.2) rotate(-30)">motod.ru</text>
<text transform="translate(541.8 679.9) rotate(-30)">motod.ru</text>
<text transform="translate(516.2 738.6) rotate(-30)">motod.ru</text>
<text transform="translate(490.6 797.3) rotate(-30)">motod.ru</text>
<text transform="translate(912.6 -17.4) rotate(-30)">motod.ru</text>
<text transform="translate(887.0 41.3) rotate(-30)">motod.ru</text>
<text transform="translate(861.4 100.0) rotate(-30)">motod.ru</text>
<text transform="translate(835.8 158.7) rotate(-30)">motod.ru</text>
<text transform="translate(810.2 217.4) rotate(-30)">motod.ru</text>
<text transform="translate(784.6 276.1) rotate(-30)">motod.ru</text>
<text transform="translate(759.0 334.8) rotate(-30)">motod.ru</text>
<text transform="translate(733.4 393.5) rotate(-30)">motod.ru</text>
<text transform="translate(707.8 452.2) rotate(-30)">motod.ru</text>
<text transform="translate(682.2 510.9) rotate(-30)">motod.ru</text>
<text transform="translate(656.6 569.6) rotate(-30)">motod.ru</text>
<text transform="translate(631.0 628.3) rotate(-30)">motod.ru</text>
<text transform="translate(605.4 687.0) rotate(-30)">motod.ru</text>
<text transform="translate(579.8 745.7) rotate(-30)">motod.ru</text>
<text transform="translate(976.2 -10.3) rotate(-30)">motod.ru</text>
<text transform="translate(950.6 48.4) rotate(-30)">motod.ru</text>
<text transform="translate(925.0 107.1) rotate(-30)">motod.ru</text>
<text transform="translate(899.4 165.8) rotate(-30)">motod.ru</text>
<text transform="translate(873.8 224.5) rotate(-30)">motod.ru</text>
<text transform="translate(848.2 283.2) rotate(-30)">motod.ru</text>
<text transform="translate(822.6 341.9) rotate(-30)">motod.ru</text>
<text transform="translate(797.0 400.6) rotate(-30)">motod.ru</text>
<text transform="translate(771.4 459.3) rotate(-30)">motod.ru</text>
<text transform="translate(745.8 518.0) rotate(-30)">motod.ru</text>
<text transform="translate(720.2 576.7) rotate(-30)">motod.ru</text>
<text transform="translate(694.6 635.4) rotate(-30)">motod.ru</text>
<text transform="translate(669.0 694.1) rotate(-30)">motod.ru</text>
<text transform="translate(643.4 752.8) rotate(-30)">motod.ru</text>
<text transform="translate(988.6 114.2) rotate(-30)">motod.ru</text>
<text transform="translate(963.0 172.9) rotate(-30)">motod.ru</text>
<text transform="translate(937.4 231.6) rotate(-30)">motod.ru</text>
<text transform="translate(911.8 290.3) rotate(-30)">motod.ru</text>
<text transform="translate(886.2 349.0) rotate(-30)">motod.ru</text>
<text transform="translate(860.6 407.7) rotate(-30)">motod.ru</text>
<text transform="translate(835.0 466.4) rotate(-30)">motod.ru</text>
<text transform="translate(809.4 525.1) rotate(-30)">motod.ru</text>
<text transform="translate(783.8 583.8) rotate(-30)">motod.ru</text>
<text transform="translate(758.2 642.5) rotate(-30)">motod.ru</text>
<text transform="translate(732.6 701.2) rotate(-30)">motod.ru</text>
<text transform="translate(707.0 759.9) rotate(-30)">motod.ru</text>
<text transform="translate(975.4 297.4) rotate(-30)">motod.ru</text>
<text transform="translate(949.8 356.1) rotate(-30)">motod.ru</text>
<text transform="translate(924.2 414.8) rotate(-30)">motod.ru</text>
<text transform="translate(898.6 473.5) rotate(-30)">motod.ru</text>
<text transform="translate(873.0 532.2) rotate(-30)">motod.ru</text>
<text transform="translate(847.4 590.9) rotate(-30)">motod.ru</text>
<text transform="translate(821.8 649.6) rotate(-30)">motod.ru</text>
<text transform="translate(796.2 708.3) rotate(-30)">motod.ru</text>
<text transform="translate(770.6 767.0) rotate(-30)">motod.ru</text>
<text transform="translate(987.8 421.9) rotate(-30)">motod.ru</text>
<text transform="translate(962.2 480.6) rotate(-30)">motod.ru</text>
<text transform="translate(936.6 539.3) rotate(-30)">motod.ru</text>
<text transform="translate(911.0 598.0) rotate(-30)">motod.ru</text>
<text transform="translate(885.4 656.7) rotate(-30)">motod.ru</text>
<text transform="translate(859.8 715.4) rotate(-30)">motod.ru</text>
<text transform="translate(834.2 774.1) rotate(-30)">motod.ru</text>
<text transform="translate(974.6 605.1) rotate(-30)">motod.ru</text>
<text transform="translate(949.0 663.8) rotate(-30)">motod.ru</text>
<text transform="translate(923.4 722.5) rotate(-30)">motod.ru</text>
<text transform="translate(897.8 781.2) rotate(-30)">motod.ru</text>
<text transform="translate(987.0 729.6) rotate(-30)">motod.ru</text>
<text transform="translate(961.4 788.3) rotate(-30)">motod.ru</text>
</g>
<rect x="226.75" y="0.75" width="522.5" height="730.3" fill="none" stroke="#000" stroke-width="1.55"/>
</svg>
</body></html>
